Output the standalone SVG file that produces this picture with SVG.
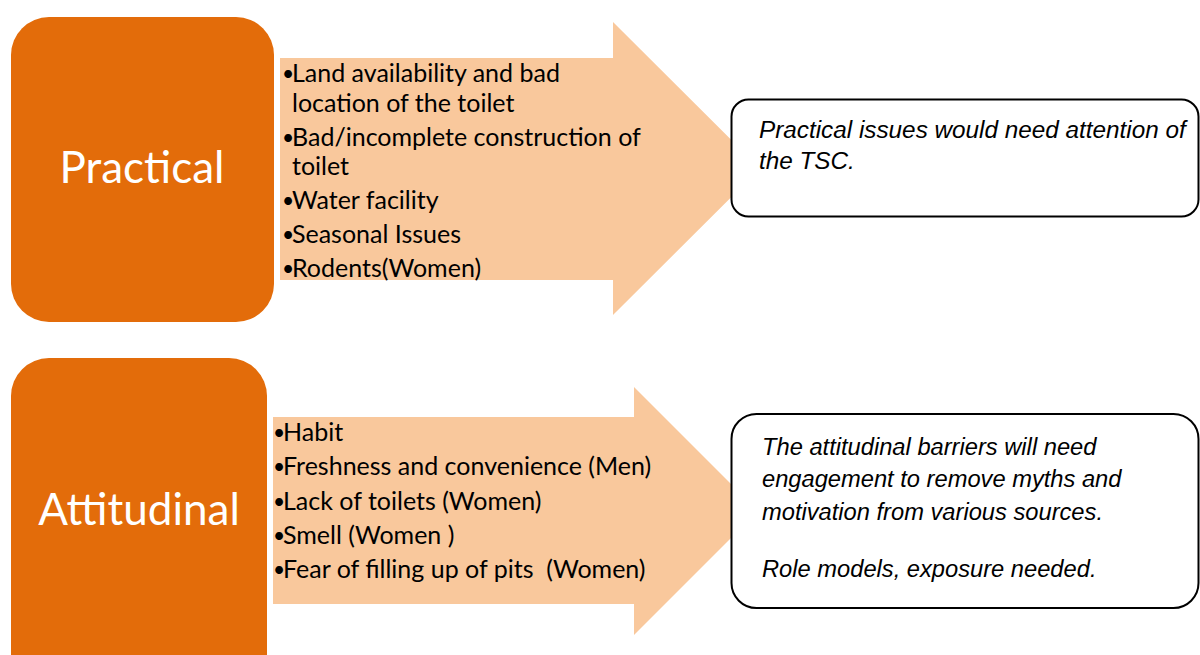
<svg xmlns="http://www.w3.org/2000/svg" width="1200" height="655" viewBox="0 0 1200 655">
<style>
.cat{fill:#E36C0A;}
.cat-t{font-family:Lato,"Open Sans",sans-serif;font-size:44px;fill:#ffffff;text-anchor:middle;}
.arrow{fill:#F9C89C;}
.li{font-family:Lato,"Open Sans",sans-serif;font-size:25px;fill:#000000;white-space:pre;}
.bu{font-family:Lato,"Open Sans",sans-serif;font-size:21px;fill:#000000;}
.note{fill:#ffffff;stroke:#000000;stroke-width:2;}
.note-t{font-family:"Liberation Sans",Arial,sans-serif;font-style:italic;font-size:24.3px;fill:#000000;}
.note-t2{font-family:"Liberation Sans",Arial,sans-serif;font-style:italic;font-size:23.7px;fill:#000000;}
</style>
<rect width="1200" height="655" fill="#ffffff"/>
<g id="connectors">
<polygon class="arrow" points="280,58 613,58 613,22 760,168.5 613,315 613,280 280,280"/>
<polygon class="arrow" points="273,417 634,417 634,387 758,511 634,635 634,604 273,604"/>
</g>
<g id="practical">
<rect class="cat" x="11" y="17" width="263" height="305" rx="38"/>
<text class="cat-t" x="142" y="183">Practical</text>
</g>
<g id="practical-list">
<text class="bu" x="282" y="81">•</text><text class="li" x="292" y="82">Land availability and bad</text>
<text class="li" x="292" y="112">location of the toilet</text>
<text class="bu" x="282" y="145">•</text><text class="li" x="292" y="146">Bad/incomplete construction of</text>
<text class="li" x="292" y="175">toilet</text>
<text class="bu" x="282" y="208">•</text><text class="li" x="292" y="209">Water facility</text>
<text class="bu" x="282" y="242">•</text><text class="li" x="292" y="243">Seasonal Issues</text>
<text class="bu" x="282" y="276">•</text><text class="li" x="292" y="277">Rodents(Women)</text>
</g>
<g id="practical-note">
<rect class="note" x="731.5" y="99.5" width="467" height="117" rx="17"/>
<text class="note-t" x="759" y="138">Practical issues would need attention of</text>
<text class="note-t" x="759" y="169">the TSC.</text>
</g>
<g id="attitudinal">
<rect class="cat" x="11" y="358" width="256" height="340" rx="38"/>
<text class="cat-t" x="139" y="525">Attitudinal</text>
</g>
<g id="attitudinal-list">
<text class="bu" x="273" y="440">•</text><text class="li" x="283" y="441">Habit</text>
<text class="bu" x="273" y="474">•</text><text class="li" x="283" y="475">Freshness and convenience (Men)</text>
<text class="bu" x="273" y="509">•</text><text class="li" x="283" y="510">Lack of toilets (Women)</text>
<text class="bu" x="273" y="543">•</text><text class="li" x="283" y="544">Smell (Women )</text>
<text class="bu" x="273" y="577">•</text><text class="li" x="283" y="578" xml:space="preserve">Fear of filling up of pits  (Women)</text>
</g>
<g id="attitudinal-note">
<rect class="note" x="731.5" y="414" width="467" height="194" rx="25"/>
<text class="note-t2" x="762" y="455">The attitudinal barriers will need</text>
<text class="note-t2" x="762" y="487">engagement to remove myths and</text>
<text class="note-t2" x="762" y="520">motivation from various sources.</text>
<text class="note-t2" x="762" y="577">Role models, exposure needed.</text>
</g>
</svg>
